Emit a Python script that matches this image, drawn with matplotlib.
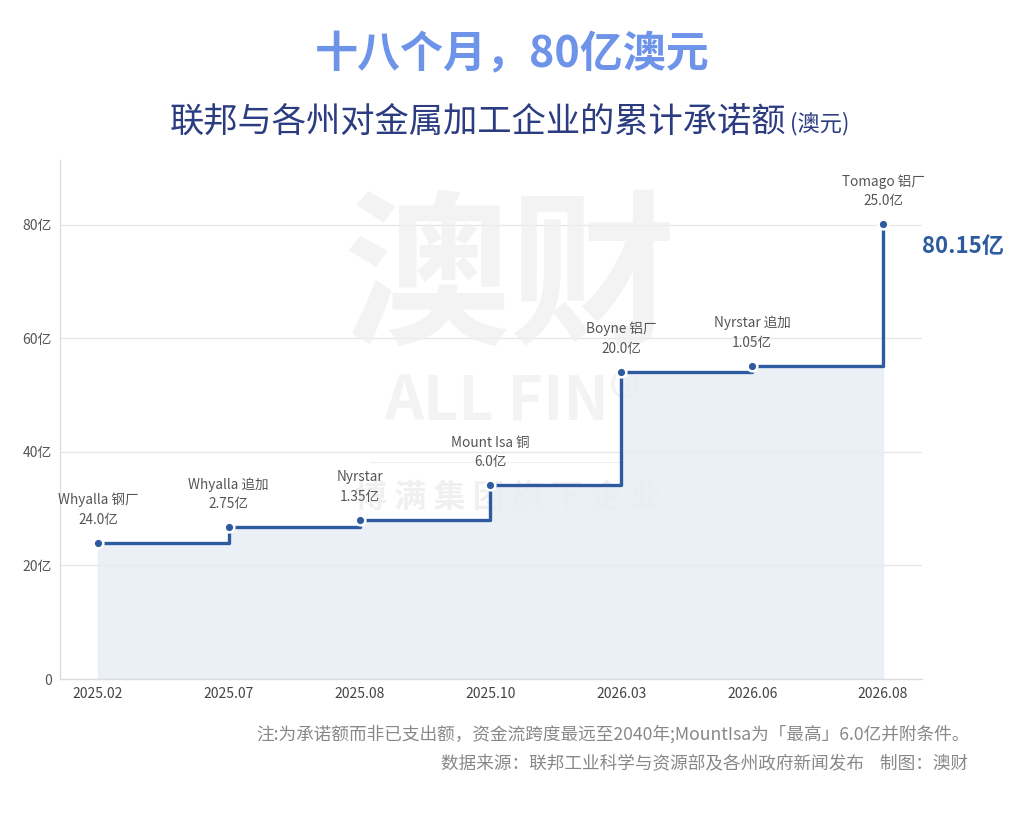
import matplotlib
matplotlib.use("Agg")
import matplotlib.pyplot as plt
import numpy as np

plt.rcParams['font.family'] = ['Noto Sans CJK SC', 'DejaVu Sans']

# data
months = ['2025.02', '2025.07', '2025.08', '2025.10', '2026.03', '2026.06', '2026.08']
projects = ['Whyalla 钢厂', 'Whyalla 追加', 'Nyrstar', 'Mount Isa 铜', 'Boyne 铝厂', 'Nyrstar 追加', 'Tomago 铝厂']
amounts = [24.0, 2.75, 1.35, 6.0, 20.0, 1.05, 25.0]   # 亿澳元
amount_labels = ['24.0亿', '2.75亿', '1.35亿', '6.0亿', '20.0亿', '1.05亿', '25.0亿']
yticks = [0, 20, 40, 60, 80]
ytick_labels = ['0', '20亿', '40亿', '60亿', '80亿']

cum = np.cumsum(amounts)
x = np.arange(len(months))

line_c = '#2e5b9f'
fill_c = '#e8edf5'

fig = plt.figure(figsize=(10.24, 8.31), dpi=100)
ax = fig.add_axes([0.0586, 0.1829, 0.8418, 0.6246])
ax.set_facecolor('none')

# watermark
ax.text(0.522, 0.765, '澳财', transform=ax.transAxes, ha='center', va='center',
        fontsize=120, fontweight='bold', color='#efefef', alpha=0.7, zorder=1)
ax.text(0.525, 0.535, 'ALL FIN®', transform=ax.transAxes, ha='center', va='center',
        fontsize=44, fontweight='bold', color='#efefef', alpha=0.7, zorder=1)
ax.text(0.52, 0.35, '博 满 集 团 旗 下 企 业', transform=ax.transAxes, ha='center', va='center',
        fontsize=23, fontweight='bold', color='#e6e6e6', alpha=0.6, zorder=1)
ax.plot([0.36, 0.68], [0.418, 0.418], transform=ax.transAxes, color='#eeeeee', lw=0.8, zorder=1)

ax.fill_between(x, cum, step='post', color=fill_c, zorder=2, alpha=0.85)
ax.step(x, cum, where='post', color=line_c, lw=2.4, zorder=3, solid_capstyle='butt')
ax.plot(x, cum, 'o', ms=7, color=line_c, mec='white', mew=1.8, zorder=4)

for xi, yi, name, lab in zip(x, cum, projects, amount_labels):
    ax.annotate(f'{name}\n{lab}', (xi, yi), xytext=(0, 16), textcoords='offset pixels',
                ha='center', va='bottom', fontsize=9.8, color='#555555',
                linespacing=1.5, zorder=5)

ax.annotate(f'{cum[-1]:.2f}亿', (x[-1], cum[-1]), xytext=(39, -22), textcoords='offset pixels',
            ha='left', va='center', fontsize=16, fontweight='bold', color=line_c,
            annotation_clip=False)

ax.set_xlim(-0.29, 6.298)
ax.set_ylim(0, 91.45)
ax.set_xticks(x)
ax.set_xticklabels(months, fontsize=10, color='#444444')
ax.set_yticks(yticks)
ax.set_yticklabels(ytick_labels, fontsize=10, color='#555555')
ax.tick_params(length=0, pad=6)
ax.grid(axis='y', color='#e6e6e6', lw=0.9, zorder=0)
ax.set_axisbelow(True)
for s in ['top', 'right']:
    ax.spines[s].set_visible(False)
for s in ['left', 'bottom']:
    ax.spines[s].set_color('#dddddd')
    ax.spines[s].set_linewidth(1.0)

fig.text(0.5, 0.934, '十八个月，80亿澳元', ha='center', va='center',
         fontsize=31, fontweight='bold', color='#6e94ea')
fig.text(0.166, 0.853, '联邦与各州对金属加工企业的累计承诺额', ha='left', va='center',
         fontsize=24.7, color='#2b3c80')
fig.text(0.771, 0.851, '(澳元)', ha='left', va='center',
         fontsize=16, color='#2b3c80')

fig.text(0.947, 0.116, '注:为承诺额而非已支出额，资金流跨度最远至2040年;MountIsa为「最高」6.0亿并附条件。',
         ha='right', va='center', fontsize=12.7, color='#888888')
fig.text(0.945, 0.081, '数据来源：联邦工业科学与资源部及各州政府新闻发布    制图：澳财',
         ha='right', va='center', fontsize=12.7, color='#888888')

fig.savefig('out.png', dpi=100)
